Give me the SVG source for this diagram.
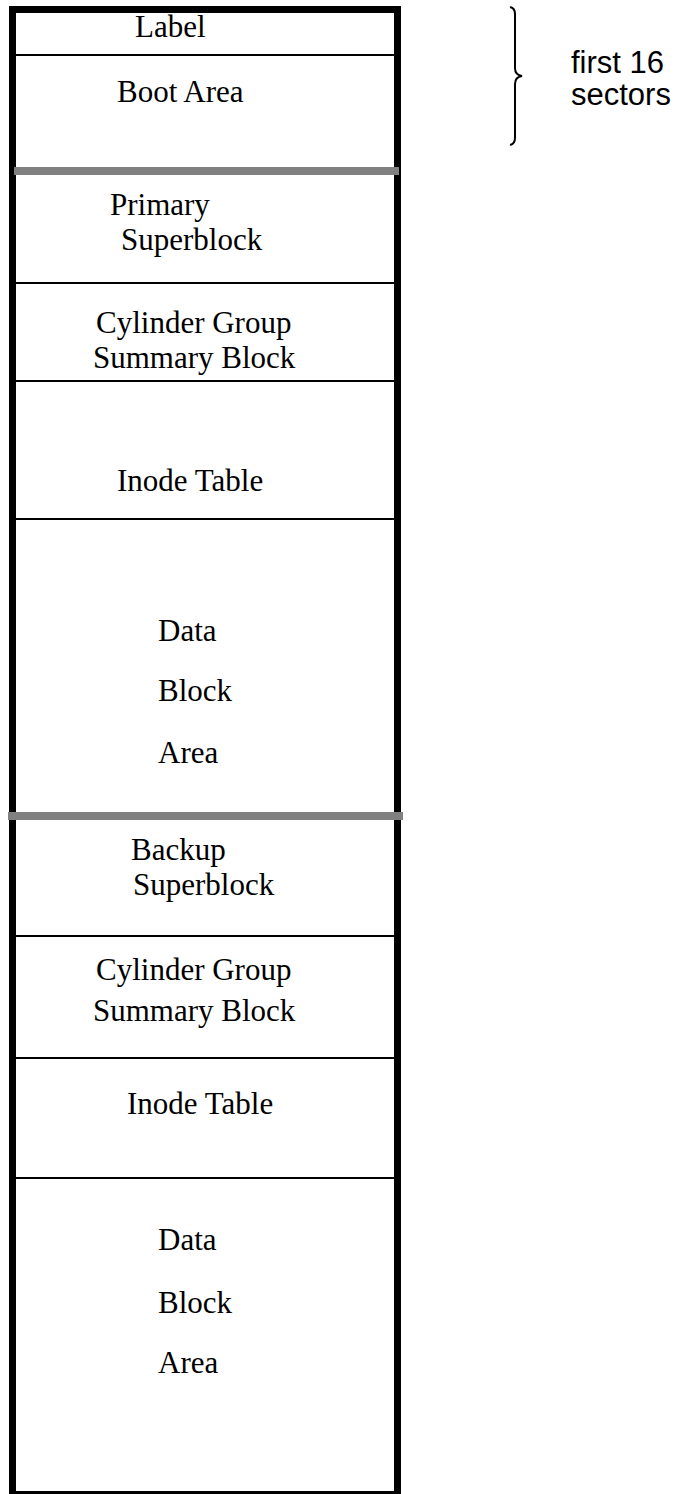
<svg xmlns="http://www.w3.org/2000/svg" width="679" height="1494" viewBox="0 0 679 1494">
<style>
.t{font-family:"Liberation Serif","Times New Roman",serif;font-size:31px;fill:#000}
.s{font-family:"Liberation Sans",Arial,sans-serif;font-size:31px;fill:#000}
.div{stroke:#000;stroke-width:2}
.bar{fill:#808080}
</style>
<rect width="679" height="1494" fill="#fff"/>
<g id="frame">
<rect x="12.5" y="9.5" width="385" height="1485" fill="none" stroke="#000" stroke-width="7"/>
</g>
<g id="connectors">
<line class="div" x1="16" y1="55" x2="394" y2="55"/>
<rect class="bar" x="14" y="167" width="385" height="8"/>
<line class="div" x1="16" y1="283" x2="394" y2="283"/>
<line class="div" x1="16" y1="381" x2="394" y2="381"/>
<line class="div" x1="16" y1="519" x2="394" y2="519"/>
<rect class="bar" x="8" y="812" width="395" height="8"/>
<line class="div" x1="16" y1="936" x2="394" y2="936"/>
<line class="div" x1="16" y1="1058" x2="394" y2="1058"/>
<line class="div" x1="16" y1="1178" x2="394" y2="1178"/>
<path d="M510,7 Q515,8 515,14 L515,68 Q515,75 522,76 Q515,77 515,84 L515,138 Q515,144 510,145" fill="none" stroke="#000" stroke-width="2"/>
</g>
<g id="label"><text class="t" x="135" y="37">Label</text></g>
<g id="boot"><text class="t" x="117" y="102">Boot Area</text></g>
<g id="primary-superblock"><text class="t" x="110" y="215">Primary</text><text class="t" x="121" y="250">Superblock</text></g>
<g id="cg-summary-1"><text class="t" x="96" y="333">Cylinder Group</text><text class="t" x="93" y="368">Summary Block</text></g>
<g id="inode-1"><text class="t" x="117" y="491">Inode Table</text></g>
<g id="data-1"><text class="t" x="158" y="641">Data</text><text class="t" x="158" y="701">Block</text><text class="t" x="158" y="763">Area</text></g>
<g id="backup-superblock"><text class="t" x="131" y="860">Backup</text><text class="t" x="133" y="895">Superblock</text></g>
<g id="cg-summary-2"><text class="t" x="96" y="980">Cylinder Group</text><text class="t" x="93" y="1021">Summary Block</text></g>
<g id="inode-2"><text class="t" x="127" y="1114">Inode Table</text></g>
<g id="data-2"><text class="t" x="158" y="1250">Data</text><text class="t" x="158" y="1313">Block</text><text class="t" x="158" y="1373">Area</text></g>
<g id="first16"><text class="s" x="571" y="73">first 16</text><text class="s" x="571" y="105">sectors</text></g>
</svg>
